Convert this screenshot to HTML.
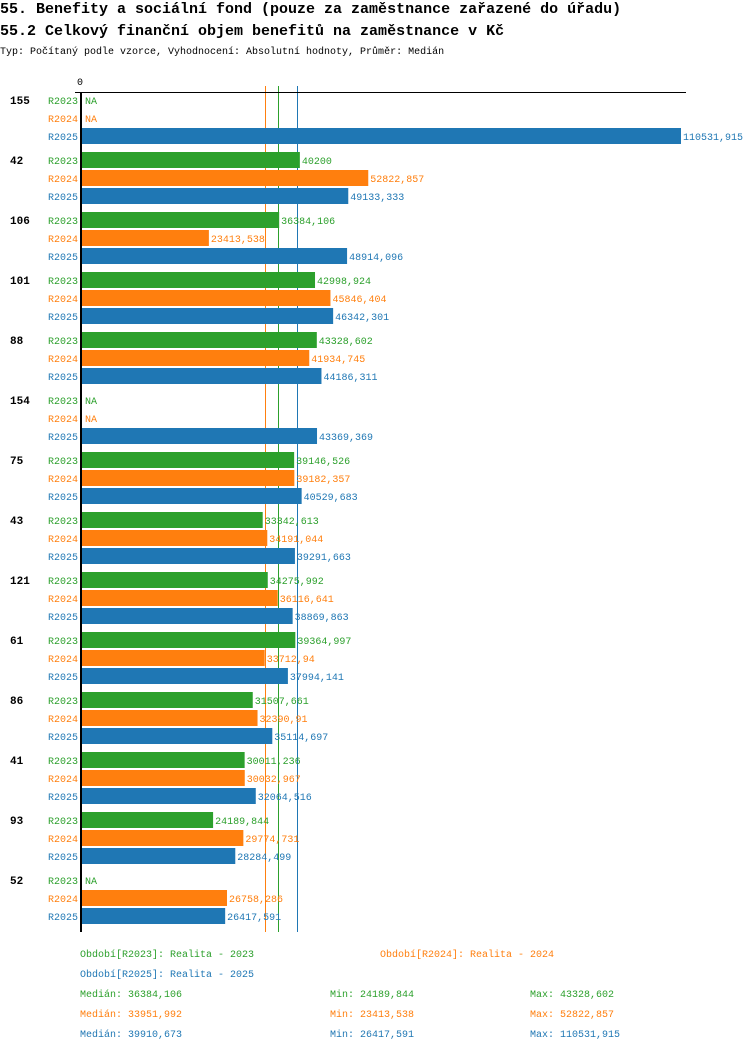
<!DOCTYPE html>
<html><head><meta charset="utf-8"><style>
body{margin:0;background:#fff;width:750px;height:1052px;overflow:hidden}
svg{display:block;font-family:"Liberation Mono","DejaVu Sans Mono",monospace}
</style></head><body>
<svg id="c" width="750" height="1052">
<text x="0" y="13" font-size="15" font-weight="bold">55. Benefity a sociální fond (pouze za zaměstnance zařazené do úřadu)</text>
<text x="0" y="35" font-size="15" font-weight="bold">55.2 Celkový finanční objem benefitů na zaměstnance v Kč</text>
<text x="0" y="54" font-size="10">Typ: Počítaný podle vzorce, Vyhodnocení: Absolutní hodnoty, Průměr: Medián</text>
</svg>
<script>
const categories=["155","42","106","101","88","154","75","43","121","61","86","41","93","52"];
const seriesNames=["R2023","R2024","R2025"];
const r2023=[null,40200,36384.106,42998.924,43328.602,null,39146.526,33342.613,34275.992,39364.997,31507.661,30011.236,24189.844,null];
const r2024=[null,52822.857,23413.538,45846.404,41934.745,null,39182.357,34191.044,36116.641,33712.94,32390.91,30032.967,29774.731,26758.286];
const r2025=[110531.915,49133.333,48914.096,46342.301,44186.311,43369.369,40529.683,39291.663,38869.863,37994.141,35114.697,32064.516,28284.499,26417.591];
const medians=[36384.106,33951.992,39910.673];
const mins=[24189.844,23413.538,26417.591];
const maxs=[43328.602,52822.857,110531.915];
const periodLabels=["Období[R2023]: Realita - 2023","Období[R2024]: Realita - 2024","Období[R2025]: Realita - 2025"];
const colors=["#2ca02c","#ff7f0e","#1f77b4"];
const svg=document.getElementById('c');
const NS="http://www.w3.org/2000/svg";
const x0=82, scale=(681-82)/110531.915;
const xs=v=>x0+v*scale;
const rowY=(g,s)=>100+g*60+s*18;
function el(tag,attrs,text){const e=document.createElementNS(NS,tag);for(const k in attrs)e.setAttribute(k,attrs[k]);if(text!==undefined)e.textContent=text;svg.appendChild(e);return e;}
const fmt=v=>String(Math.round(v*1000)/1000).replace('.',',');
const series=[r2023,r2024,r2025];
medians.forEach((m,s)=>{
  let l=el('rect',{x:Math.round(xs(m))-1,y:86,width:1,height:846,fill:colors[s],'shape-rendering':'crispEdges'});
  
  
});
let t=el('text',{x:80,y:85,'font-size':10,'text-anchor':'middle'},'0');


categories.forEach((c,g)=>{
  let lt=el('text',{x:10,y:rowY(g,0)+4,'font-size':11,'font-weight':'bold'},c);
  
  
  series.forEach((arr,s)=>{
    const y=rowY(g,s);
    let st=el('text',{x:78,y:y+4,'font-size':10,'text-anchor':'end',fill:colors[s]},seriesNames[s]);
    
    
    const v=arr[g];
    if(v===null){
      let na=el('text',{x:85,y:y+4,'font-size':10,fill:colors[s]},'NA');
      
      
    }else{
      let b=el('rect',{x:x0,y:y-8,width:xs(v)-x0,height:16,fill:colors[s]});
      
      
      let vt=el('text',{x:xs(v)+2,y:y+4,'font-size':10,fill:colors[s]},fmt(v));
      
      
    }
  });
});
let ax=el('rect',{x:75,y:92,width:611,height:1,fill:'#000','shape-rendering':'crispEdges'});


let ay=el('rect',{x:80,y:92,width:2,height:840,fill:'#000','shape-rendering':'crispEdges'});


const legPos=[[80,957],[380,957],[80,977]];
periodLabels.forEach((p,s)=>{
  let lg=el('text',{x:legPos[s][0],y:legPos[s][1],'font-size':10,fill:colors[s]},p);
  
  
});
series.forEach((a,s)=>{
  const y=997+s*20;
  let a1=el('text',{x:80,y:y,'font-size':10,fill:colors[s]},'Medián: '+fmt(medians[s]));
  
  
  let a2=el('text',{x:330,y:y,'font-size':10,fill:colors[s]},'Min: '+fmt(mins[s]));
  
  
  let a3=el('text',{x:530,y:y,'font-size':10,fill:colors[s]},'Max: '+fmt(maxs[s]));
  
  
});
</script>
</body></html>
